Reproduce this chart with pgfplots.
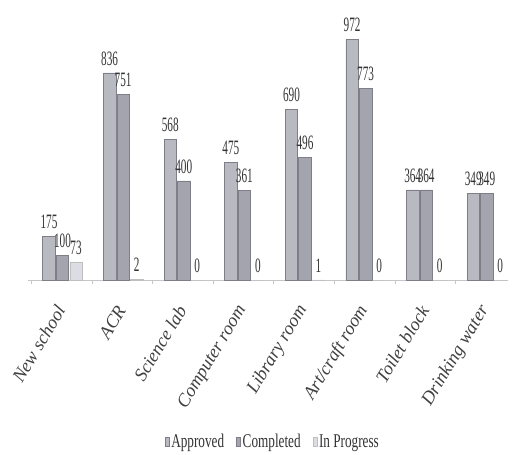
\documentclass[border=0pt]{standalone}
\usepackage{fontspec}
\setmainfont{Liberation Serif}
\usepackage{pgfplots}
\pgfplotsset{compat=1.18}
\definecolor{appr}{HTML}{B9B9C2}
\definecolor{comp}{HTML}{A4A4AE}
\definecolor{prog}{HTML}{DCDCE4}
\definecolor{edge}{HTML}{7E7E88}
\begin{document}
\begin{tikzpicture}
\path[use as bounding box] (-28bp,-175bp) rectangle (486bp,280bp);
\begin{axis}[
  at={(0,0)}, anchor=south west,
  scale only axis, width=480bp, height=260bp,
  xmin=-0.57, xmax=7.35, ymin=0, ymax=1050,
  axis y line=none, axis x line*=bottom,
  x axis line style={draw=gray!45, -},
  xtick={0,...,7},
  xticklabels={New school,ACR,Science lab,Computer room,Library room,Art/craft room,Toilet block,Drinking water},
  major x tick style={draw=none},
  minor xtick={-0.52,0.48,...,6.5},
  minor x tick style={draw=gray!45},
  minor tick length=4bp, tick align=outside,
  xticklabel style={font=\fontsize{18.5}{18.5}\selectfont\itshape, text=black!75, rotate=59, anchor=east},
  xticklabel shift={20bp},
  ybar=1bp, bar width=12.5bp,
  /pgf/number format/assume math mode=true,
  nodes near coords={\scalebox{0.55}[1]{\pgfmathprintnumber{\pgfplotspointmeta}}},
  every node near coord/.append style={font=\fontsize{20.5}{20.5}\selectfont, text=black!80, yshift=4bp},
  legend style={at={(0.51,-0.623)}, anchor=center, draw=none, fill=none,
    font=\fontsize{19.5}{19.5}\selectfont, text=black!80,
    legend columns=3, /tikz/every even column/.append style={column sep=10bp},
    inner sep=0pt},
  legend image code/.code={\fill[#1] (0bp,-4.5bp) rectangle (4bp,4.5bp);},
  clip=false,
]
\addplot[fill=appr, draw=edge, line width=0.6pt] coordinates {(0,175) (1,836) (2,568) (3,475) (4,690) (5,972) (6,364) (7,349)};
\addplot[fill=comp, draw=edge, line width=0.6pt] coordinates {(0,100) (1,751) (2,400) (3,361) (4,496) (5,773) (6,364) (7,349)};
\addplot[fill=prog, draw=gray!50, line width=0.4pt] coordinates {(0,73) (1,2) (2,0) (3,0) (4,1) (5,0) (6,0) (7,0)};
\legend{\scalebox{0.68}[1]{Approved},\scalebox{0.68}[1]{Completed},\scalebox{0.68}[1]{In Progress}}
\end{axis}
\end{tikzpicture}
\end{document}
